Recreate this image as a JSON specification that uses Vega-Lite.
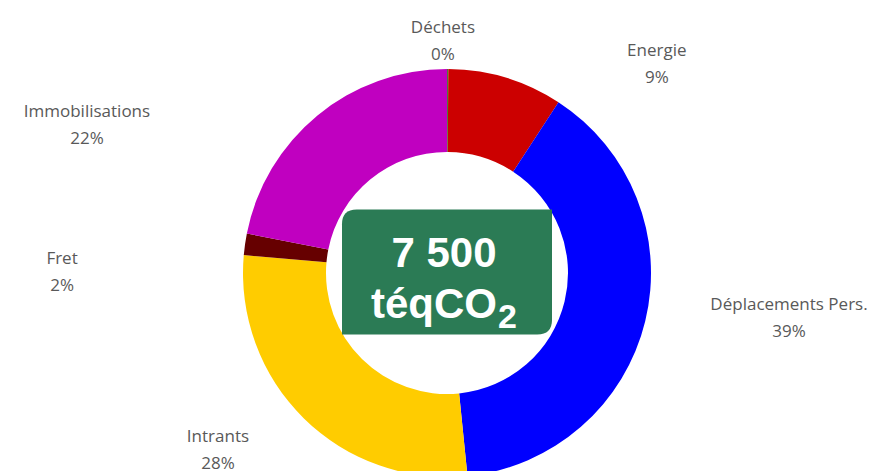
{
  "$schema": "https://vega.github.io/schema/vega-lite/v6.json",
  "autosize": {"type": "none"},
  "width": 866,
  "height": 396,
  "padding": {"left": 14, "top": 75, "right": 0, "bottom": 0},
  "background": "white",
  "config": {"view": {"stroke": null}},
  "datasets": {
    "postes": [
      {"category": "Déchets", "value": 0.1, "order": 1, "label": "Déchets\n0%", "angle": 359.0, "dist": 1.137},
      {"category": "Energie", "value": 9.1, "order": 2, "label": "Energie\n9%", "angle": 45.1, "dist": 1.452},
      {"category": "Déplacements Pers.", "value": 39.2, "order": 3, "label": "Déplacements Pers.\n39%", "angle": 97.5, "dist": 1.691},
      {"category": "Intrants", "value": 28.0, "order": 4, "label": "Intrants\n28%", "angle": 232.3, "dist": 1.419},
      {"category": "Fret", "value": 1.7, "order": 5, "label": "Fret\n2%", "angle": 270.15, "dist": 1.887},
      {"category": "Immobilisations", "value": 21.9, "order": 6, "label": "Immobilisations\n22%", "angle": 292.4, "dist": 1.909}
    ],
    "total": [{"total": "7 500", "unit": "téqCO", "sub": "2"}]
  },
  "layer": [
    {
      "data": {"name": "postes"},
      "mark": {"type": "arc", "outerRadius": 204, "innerRadius": 121},
      "encoding": {
        "theta": {"field": "value", "type": "quantitative", "stack": true},
        "order": {"field": "order", "type": "quantitative"},
        "color": {
          "field": "category",
          "type": "nominal",
          "scale": {
            "domain": ["Déchets", "Energie", "Déplacements Pers.", "Intrants", "Fret", "Immobilisations"],
            "range": ["#4f7a3a", "#cc0000", "#0000ff", "#ffcc00", "#660000", "#c000c0"]
          },
          "legend": null
        }
      }
    },
    {
      "data": {"name": "postes"},
      "mark": {"type": "text", "font": "Open Sans", "fontSize": 17, "color": "#595959", "lineBreak": "\n", "lineHeight": 27, "align": "center", "baseline": "middle", "dy": -13},
      "encoding": {
        "theta": {"field": "angle", "type": "quantitative", "stack": null, "scale": {"type": "linear", "domain": [0, 360], "range": [0, 6.283185307]}},
        "radius": {"field": "dist", "type": "quantitative", "scale": {"type": "linear", "domain": [0, 2], "range": [0, 408], "zero": true}},
        "text": {"field": "label"}
      }
    },
    {
      "data": {"name": "total"},
      "mark": {"type": "point", "shape": "M -0.86 -0.595 L 1 -0.595 L 1 0.455 Q 1 0.595 0.86 0.595 L -1 0.595 L -1 -0.455 Q -1 -0.595 -0.86 -0.595 Z", "size": 44100, "filled": true, "fill": "#2b7b55", "opacity": 1, "strokeWidth": 0, "yOffset": -1},
      "encoding": {}
    },
    {
      "data": {"name": "total"},
      "mark": {"type": "text", "font": "Liberation Sans", "fontWeight": "bold", "fontSize": 42, "color": "white", "align": "center", "baseline": "alphabetic", "dx": -3, "dy": -6.5},
      "encoding": {"text": {"field": "total"}}
    },
    {
      "data": {"name": "total"},
      "mark": {"type": "text", "font": "Liberation Sans", "fontWeight": "bold", "fontSize": 42, "color": "white", "align": "right", "baseline": "alphabetic", "dx": 50, "dy": 45},
      "encoding": {"text": {"field": "unit"}}
    },
    {
      "data": {"name": "total"},
      "mark": {"type": "text", "font": "Liberation Sans", "fontWeight": "bold", "fontSize": 34, "color": "white", "align": "left", "baseline": "alphabetic", "dx": 51, "dy": 55},
      "encoding": {"text": {"field": "sub"}}
    }
  ],
  "resolve": {"scale": {"theta": "independent", "radius": "independent"}}
}
